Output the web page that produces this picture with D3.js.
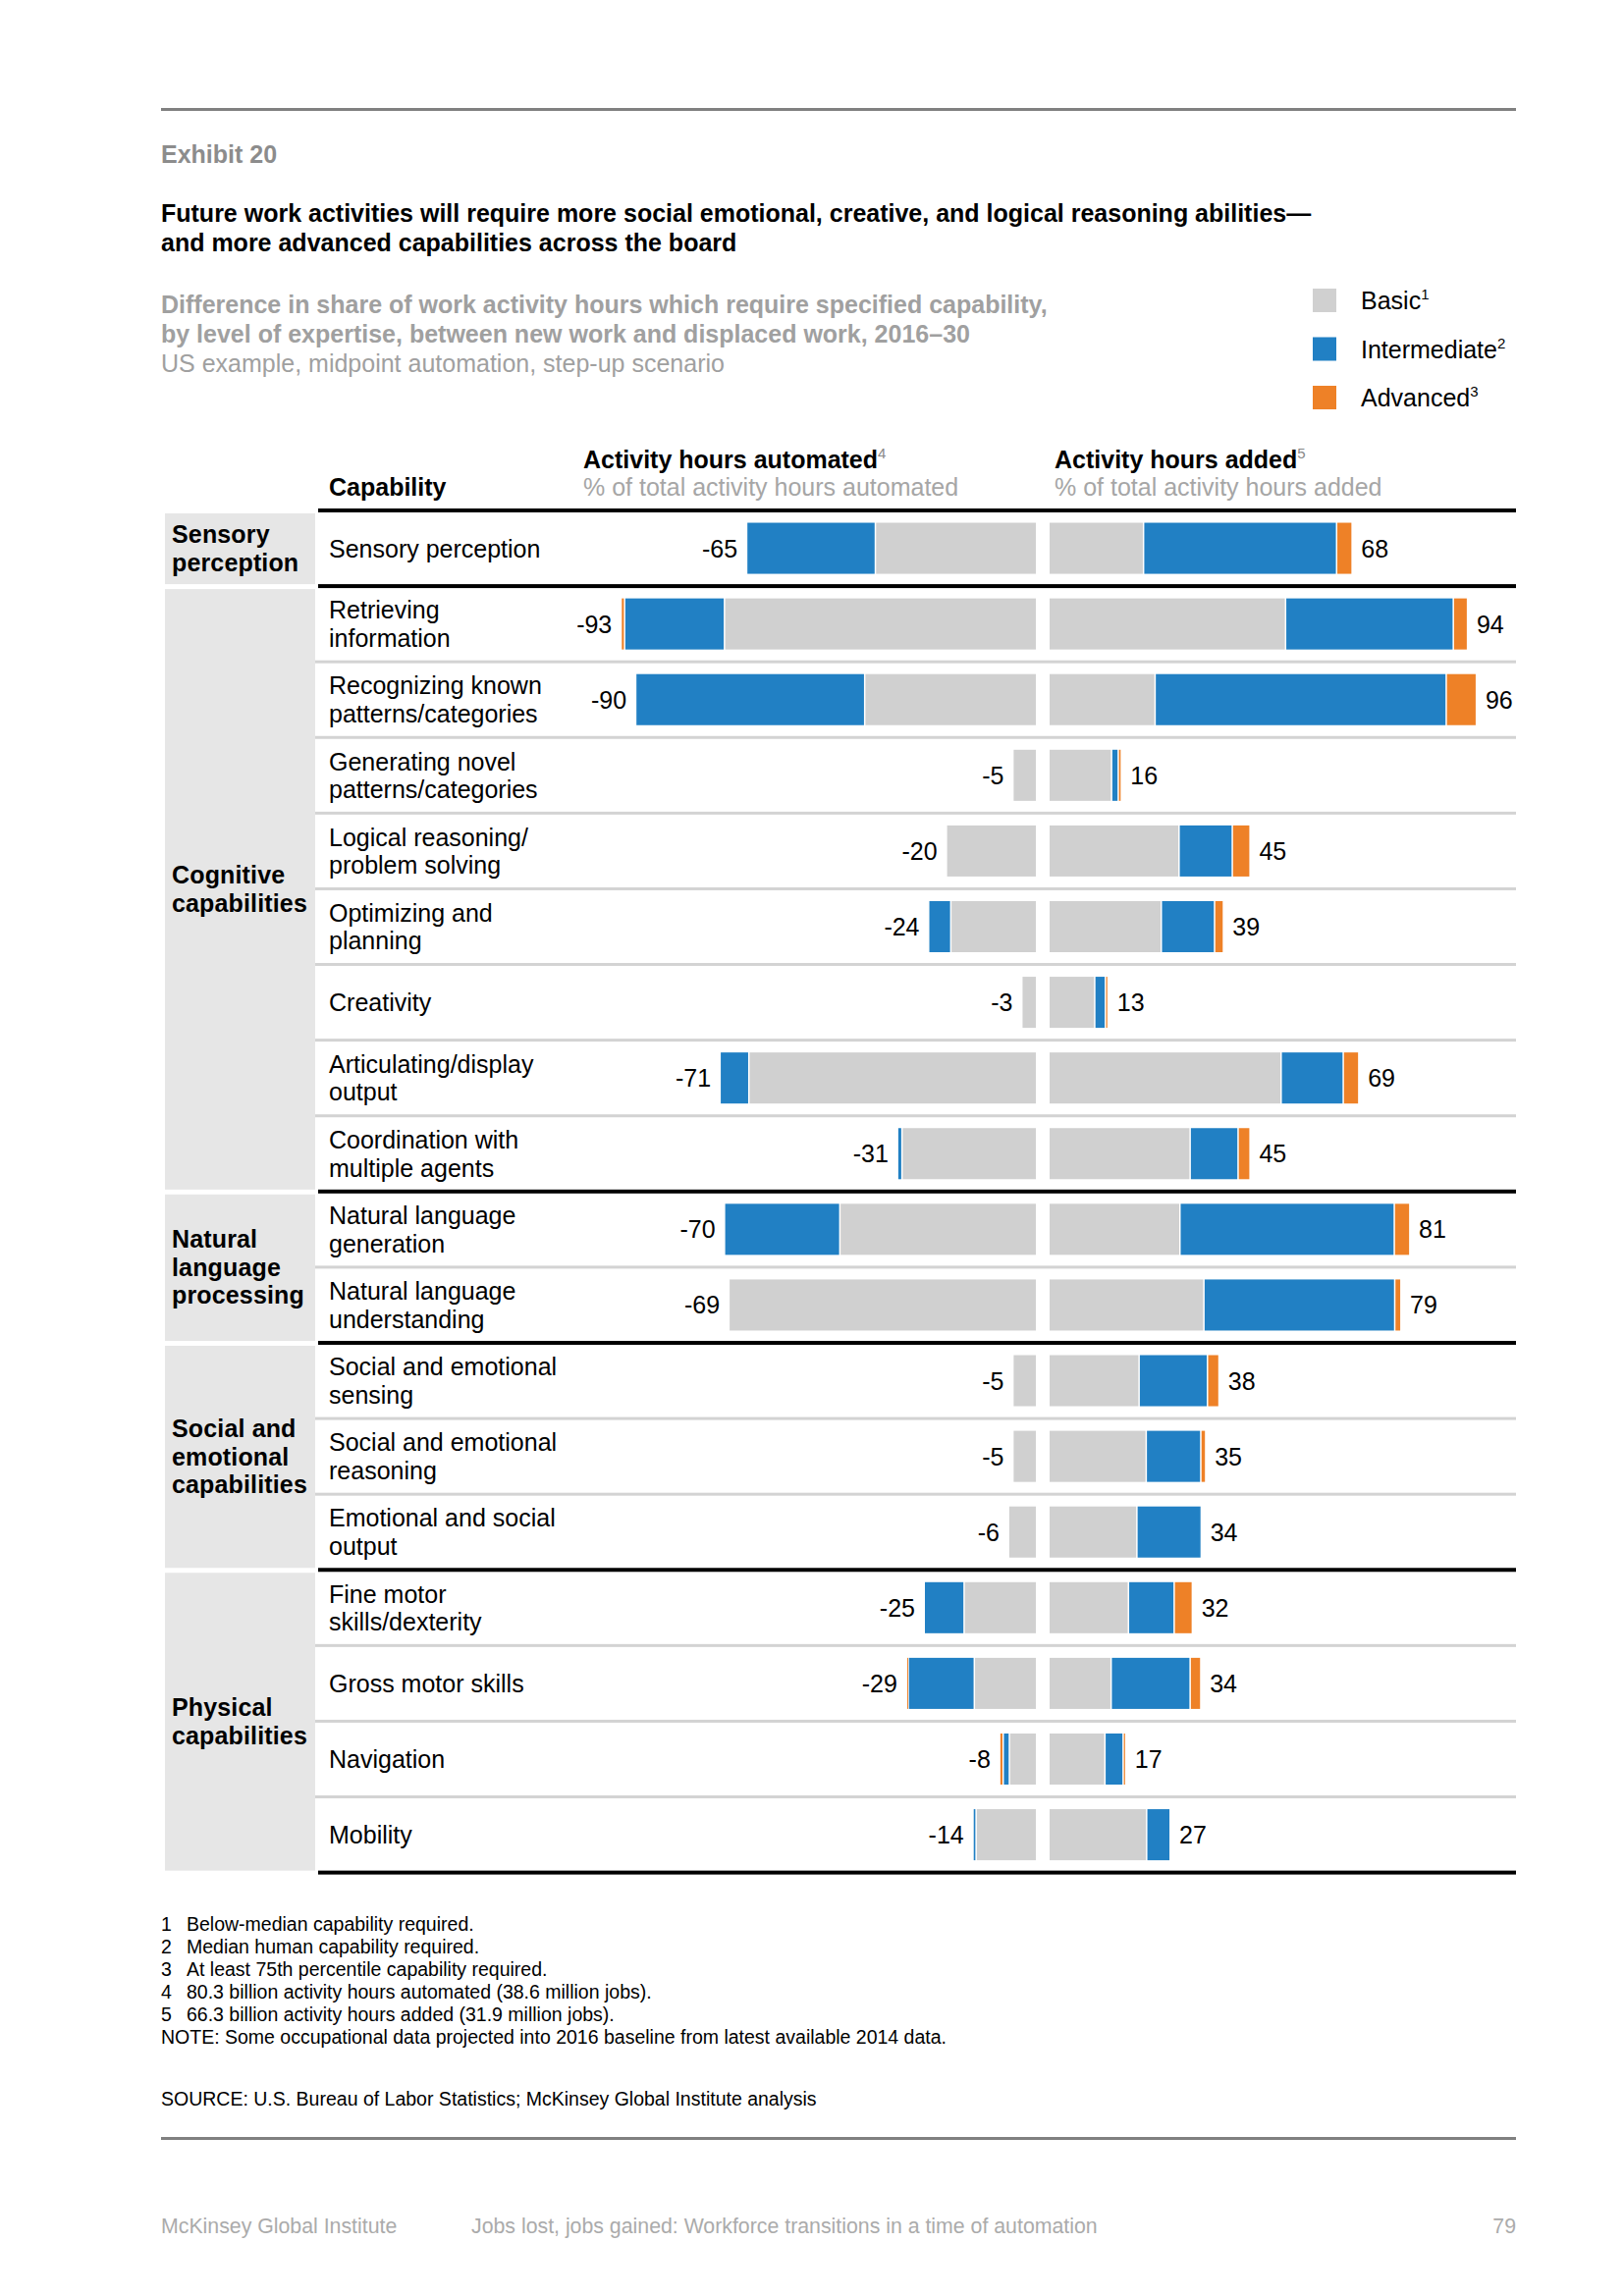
<!DOCTYPE html>
<html>
<head>
<meta charset="utf-8">
<script src="https://cdn.jsdelivr.net/npm/d3@7"></script>
<style>
  html, body { margin: 0; padding: 0; background: #fff; }
  svg { display: block; font-family: "Liberation Sans", Arial, Helvetica, sans-serif; }
</style>
</head>
<body>
<svg id="chart" width="1654" height="2339"></svg>
<script>
// ---------------- DATA ----------------
const capabilities = [
  "Sensory perception",
  "Retrieving\ninformation",
  "Recognizing known\npatterns/categories",
  "Generating novel\npatterns/categories",
  "Logical reasoning/\nproblem solving",
  "Optimizing and\nplanning",
  "Creativity",
  "Articulating/display\noutput",
  "Coordination with\nmultiple agents",
  "Natural language\ngeneration",
  "Natural language\nunderstanding",
  "Social and emotional\nsensing",
  "Social and emotional\nreasoning",
  "Emotional and social\noutput",
  "Fine motor\nskills/dexterity",
  "Gross motor skills",
  "Navigation",
  "Mobility"
];
const groupNames = ["Sensory\nperception", "Cognitive\ncapabilities", "Natural\nlanguage\nprocessing", "Social and\nemotional\ncapabilities", "Physical\ncapabilities"];
const groupSizes = [1, 8, 2, 3, 4];

// Activity hours automated (% of total), by expertise level (drawn leftwards)
const automatedBasic        = [36, 70, 38.4, 5, 20, 19, 3, 64.5, 30, 44, 69, 5, 5, 6, 16, 13.7, 5.8, 13.3];
const automatedIntermediate = [29, 22.5, 51.6, 0, 0, 5, 0, 6.5, 1, 26, 0, 0, 0, 0, 9, 14.9, 1.4, 0.7];
const automatedAdvanced     = [0, 0.8, 0, 0, 0, 0, 0, 0, 0, 0, 0, 0, 0, 0, 0, 0.4, 0.8, 0];
const automatedLabels       = [-65, -93, -90, -5, -20, -24, -3, -71, -31, -70, -69, -5, -5, -6, -25, -29, -8, -14];

// Activity hours added (% of total), by expertise level (drawn rightwards)
const addedBasic        = [21, 53, 23.6, 13.8, 29, 25, 10, 52, 31.5, 29.2, 34.6, 20, 21.6, 19.5, 17.6, 13.7, 12.3, 21.7];
const addedIntermediate = [43.5, 37.8, 65.6, 1.5, 12, 12, 2.4, 14, 10.8, 48.3, 43, 15.4, 12.3, 14.5, 10.3, 17.8, 4.1, 5.3];
const addedAdvanced     = [3.5, 3.2, 6.8, 0.7, 4, 2, 0.6, 3.5, 2.7, 3.5, 1.4, 2.6, 1.1, 0, 4.1, 2.4, 0.6, 0];
const addedLabels       = [68, 94, 96, 16, 45, 39, 13, 69, 45, 81, 79, 38, 35, 34, 32, 34, 17, 27];

const levels = ["Basic", "Intermediate", "Advanced"];
const levelSup = ["1", "2", "3"];
const colors = ["#d0d0d0", "#2180c4", "#ee8127"];

const footnotes = [
  ["1", "Below-median capability required."],
  ["2", "Median human capability required."],
  ["3", "At least 75th percentile capability required."],
  ["4", "80.3 billion activity hours automated (38.6 million jobs)."],
  ["5", "66.3 billion  activity hours added (31.9 million jobs)."]
];

// ---------------- DRAW ----------------
const svg = d3.select("#chart");
const FONT = 25;
const L = 164, R = 1544;

// top rule
svg.append("rect").attr("x", L).attr("y", 110).attr("width", R - L).attr("height", 3).attr("fill", "#808080");

svg.append("text").attr("x", L).attr("y", 166).attr("font-size", FONT).attr("font-weight", "bold")
  .attr("fill", "#8c8c8c").text("Exhibit 20");

const title = ["Future work activities will require more social emotional, creative, and logical reasoning abilities\u2014",
               "and more advanced capabilities across the board"];
title.forEach((t, i) => svg.append("text").attr("x", L).attr("y", 226 + i * 29.5)
  .attr("font-size", FONT).attr("font-weight", "bold").attr("fill", "#000").text(t));

const sub = [["Difference in share of work activity hours which require specified capability,", true],
             ["by level of expertise, between new work and displaced work, 2016\u201330", true],
             ["US example, midpoint automation, step-up scenario", false]];
sub.forEach((s, i) => svg.append("text").attr("x", L).attr("y", 319 + i * 30)
  .attr("font-size", FONT).attr("font-weight", s[1] ? "bold" : "normal").attr("fill", "#a0a0a0").text(s[0]));

// legend
const legend = svg.append("g");
levels.forEach((lv, i) => {
  const y = 294 + i * 49.5;
  legend.append("rect").attr("x", 1337).attr("y", y).attr("width", 24).attr("height", 24).attr("fill", colors[i]);
  const t = legend.append("text").attr("x", 1386).attr("y", y + 21).attr("font-size", FONT).attr("fill", "#000");
  t.append("tspan").text(lv);
  t.append("tspan").attr("font-size", 15).attr("dy", -10).text(levelSup[i]);
});

// headers
function header(x, bold, sup, light) {
  const t = svg.append("text").attr("x", x).attr("y", 477).attr("font-size", FONT).attr("font-weight", "bold").attr("fill", "#000");
  t.append("tspan").text(bold);
  t.append("tspan").attr("font-size", 15).attr("dy", -10).attr("font-weight", "normal").attr("fill", "#888").text(sup);
  svg.append("text").attr("x", x).attr("y", 505).attr("font-size", FONT).attr("fill", "#a6a6a6").text(light);
}
svg.append("text").attr("x", 335).attr("y", 505).attr("font-size", FONT).attr("font-weight", "bold").attr("fill", "#000").text("Capability");
header(594, "Activity hours automated", "4", "% of total activity hours automated");
header(1074, "Activity hours added", "5", "% of total activity hours added");

// scales
const n = capabilities.length;
const top0 = 520, step = 77.09;
const y = d3.scaleBand().domain(d3.range(n)).range([top0, top0 + n * step]).paddingInner(0.325).paddingOuter(0.1625);
const xL = d3.scaleLinear().domain([0, 100]).range([1055, 1055 - 452]);
const xR = d3.scaleLinear().domain([0, 100]).range([1069, 1069 + 452]);

// group boxes and labels
let start = 0;
const groupStarts = [];
groupSizes.forEach((sz, gi) => {
  groupStarts.push(start);
  const y0 = top0 + start * step, y1 = top0 + (start + sz) * step;
  svg.append("rect").attr("x", 168).attr("y", y0 + 3).attr("width", 153).attr("height", y1 - y0 - 5).attr("fill", "#e6e6e6");
  const lines = groupNames[gi].split("\n");
  const cy = (y0 + y1) / 2;
  const t = svg.append("text").attr("font-size", FONT).attr("font-weight", "bold").attr("fill", "#000")
    .attr("letter-spacing", 0.15);
  lines.forEach((ln, li) => t.append("tspan").attr("x", 175)
    .attr("y", cy + 9 + (li - (lines.length - 1) / 2) * 28.5).text(ln));
  start += sz;
});

// row separators
for (let i = 0; i <= n; i++) {
  const yy = top0 + i * step;
  const thick = i === 0 || i === n || groupStarts.includes(i);
  if (thick) {
    svg.append("rect").attr("x", 324).attr("y", yy - 2).attr("width", R - 324).attr("height", 4).attr("fill", "#000");
  } else {
    svg.append("rect").attr("x", 321).attr("y", yy - 1.5).attr("width", R - 321).attr("height", 3).attr("fill", "#d3d3d3");
  }
}

// capability labels
capabilities.forEach((c, i) => {
  const cy = y(i) + y.bandwidth() / 2;
  const lines = c.split("\n");
  const t = svg.append("text").attr("font-size", FONT).attr("fill", "#000");
  lines.forEach((ln, li) => t.append("tspan").attr("x", 335)
    .attr("y", cy + 9 + (li - (lines.length - 1) / 2) * 28.5).text(ln));
});

// bars
const autoSeries = [automatedBasic, automatedIntermediate, automatedAdvanced];
const addSeries = [addedBasic, addedIntermediate, addedAdvanced];
const bars = svg.append("g");
for (let i = 0; i < n; i++) {
  let acc = 0;
  autoSeries.forEach((s, li) => {
    const v = s[i];
    if (v > 0) {
      const a = xL(acc) - (li > 0 ? 1.5 : 0), b = xL(acc + v);
      bars.append("rect").attr("x", b).attr("y", y(i)).attr("width", Math.max(a - b, 1)).attr("height", y.bandwidth()).attr("fill", colors[li]);
    }
    acc += v;
  });
  svg.append("text").attr("x", xL(acc) - 10).attr("y", y(i) + y.bandwidth() / 2 + 9)
    .attr("text-anchor", "end").attr("font-size", FONT).attr("fill", "#000").text(automatedLabels[i]);

  acc = 0;
  addSeries.forEach((s, li) => {
    const v = s[i];
    if (v > 0) {
      const a = xR(acc) + (li > 0 ? 1.5 : 0), b = xR(acc + v);
      bars.append("rect").attr("x", a).attr("y", y(i)).attr("width", Math.max(b - a, 1)).attr("height", y.bandwidth()).attr("fill", colors[li]);
    }
    acc += v;
  });
  svg.append("text").attr("x", xR(acc) + 10).attr("y", y(i) + y.bandwidth() / 2 + 9)
    .attr("font-size", FONT).attr("fill", "#000").text(addedLabels[i]);
}

// footnotes
const FN = 19.5;
footnotes.forEach((f, i) => {
  const yy = 1967 + i * 23.1;
  svg.append("text").attr("x", L).attr("y", yy).attr("font-size", FN).attr("fill", "#000").text(f[0]);
  svg.append("text").attr("x", 190).attr("y", yy).attr("font-size", FN).attr("fill", "#000").text(f[1]);
});
svg.append("text").attr("x", L).attr("y", 2082).attr("font-size", FN).attr("fill", "#000")
  .text("NOTE: Some occupational data projected into 2016 baseline from latest available 2014 data.");
svg.append("text").attr("x", L).attr("y", 2145).attr("font-size", FN).attr("fill", "#000")
  .text("SOURCE:  U.S. Bureau of Labor Statistics; McKinsey Global Institute analysis");

svg.append("rect").attr("x", L).attr("y", 2177).attr("width", R - L).attr("height", 3).attr("fill", "#808080");

svg.append("text").attr("x", L).attr("y", 2275).attr("font-size", 21.3).attr("fill", "#ababab").text("McKinsey Global Institute");
svg.append("text").attr("x", 480).attr("y", 2275).attr("font-size", 21.3).attr("fill", "#ababab")
  .text("Jobs lost, jobs gained: Workforce transitions in a time of automation");
svg.append("text").attr("x", R).attr("y", 2275).attr("text-anchor", "end").attr("font-size", 21.3).attr("fill", "#ababab").text("79");
</script>
</body>
</html>
